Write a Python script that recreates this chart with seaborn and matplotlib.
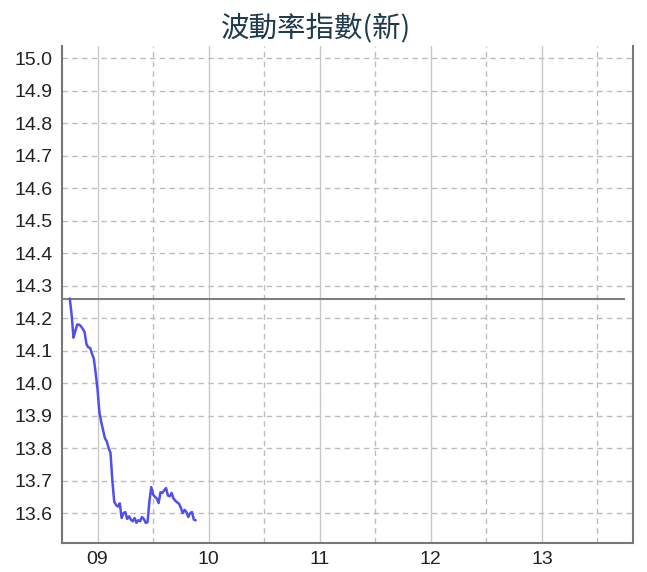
import matplotlib
matplotlib.use('Agg')
import seaborn as sns
import matplotlib.pyplot as plt
from matplotlib.ticker import MultipleLocator, FixedLocator
import pandas as pd

# minutes relative to 09:00 and index values
minutes = list(range(-15, 54))
values = [14.26, 14.21, 14.14, 14.16, 14.18, 14.18, 14.175, 14.167, 14.157, 14.12,
          14.11, 14.108, 14.09, 14.075, 14.03, 13.98, 13.91, 13.88, 13.855, 13.83,
          13.82, 13.80, 13.785, 13.70, 13.635, 13.625, 13.62, 13.63, 13.585, 13.60,
          13.603, 13.582, 13.59, 13.58, 13.575, 13.585, 13.57, 13.578, 13.575, 13.588,
          13.582, 13.57, 13.572, 13.636, 13.68, 13.657, 13.65, 13.645, 13.631, 13.664,
          13.662, 13.67, 13.677, 13.654, 13.652, 13.662, 13.645, 13.638, 13.633, 13.629,
          13.616, 13.60, 13.61, 13.603, 13.588, 13.60, 13.603, 13.58, 13.578]
prev_close = 14.26
session_end = 13.75
hour_ticks = [9, 10, 11, 12, 13]
hour_labels = ['09', '10', '11', '12', '13']
title = '波動率指數(新)'

df = pd.DataFrame({'hour': [9 + m / 60 for m in minutes], 'value': values})

sns.set_theme(style='white')
plt.rcParams['font.family'] = ['Liberation Sans', 'Noto Sans CJK TC', 'DejaVu Sans']

fig = plt.figure(figsize=(6.47, 5.72), dpi=100)
ax = fig.add_axes([62 / 647, 1 - 543 / 572, (633 - 62) / 647, (543 - 46) / 572])

sns.lineplot(data=df, x='hour', y='value', ax=ax, color='#5050ee', linewidth=1.8)

ax.set_xlim(8.68, 13.82)
ax.set_ylim(13.508, 15.037)
ax.hlines(prev_close, 8.68, session_end, color='#7f7f7f', linewidth=1.5, zorder=1)

ax.yaxis.set_major_locator(MultipleLocator(0.1))
ax.yaxis.set_major_formatter(matplotlib.ticker.FormatStrFormatter('%.1f'))
ax.set_xticks(hour_ticks)
ax.set_xticklabels(hour_labels)
ax.xaxis.set_minor_locator(FixedLocator([8.5, 9.5, 10.5, 11.5, 12.5, 13.5]))

ax.grid(axis='y', which='major', color='#bdbdbd', linestyle=(0, (4, 3)), linewidth=1)
ax.grid(axis='x', which='major', color='#c8c8c8', linestyle='-', linewidth=1)
ax.grid(axis='x', which='minor', color='#bdbdbd', linestyle=(0, (4, 3)), linewidth=1)
ax.tick_params(axis='both', which='both', length=0, labelsize=14, colors='#222222')
ax.tick_params(axis='y', pad=7)
ax.tick_params(axis='x', pad=6)

ax.spines['top'].set_visible(False)
for s in ['left', 'right', 'bottom']:
    ax.spines[s].set_color('#777777')
    ax.spines[s].set_linewidth(1.5)

ax.set_xlabel('')
ax.set_ylabel('')
fig.text(316 / 647, 1 - 28 / 572, title, ha='center', va='center', fontsize=20.5,
         color='#1d3b4c', family=['Noto Sans CJK TC', 'DejaVu Sans'])

fig.savefig('out.png', dpi=100)
